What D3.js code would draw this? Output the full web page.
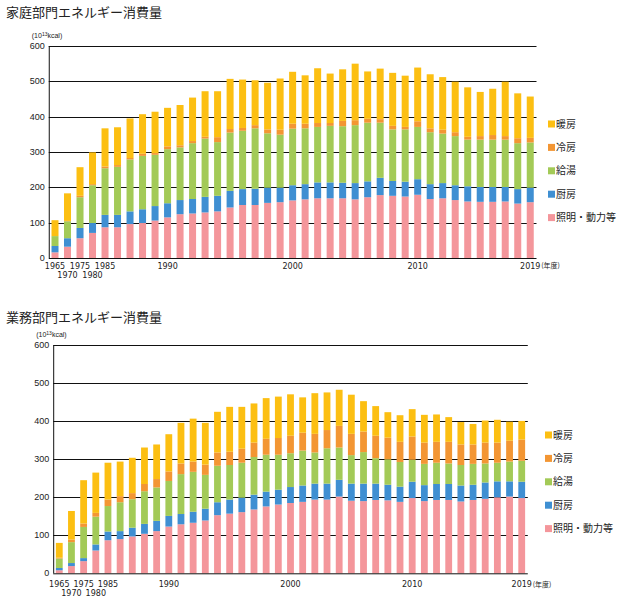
<!DOCTYPE html>
<html>
<head>
<meta charset="utf-8">
<script src="https://cdn.jsdelivr.net/npm/d3@7"></script>
<style>
  body { margin: 0; background: #fff; }
  svg { display: block; }
  .title { font-family: "Noto Sans CJK JP", sans-serif; font-size: 13px; fill: #222; }
  .unit { font-family: "Liberation Sans", Arial, sans-serif; font-size: 7px; fill: #222; }
  .ytick { font-family: "Liberation Sans", Arial, sans-serif; font-size: 9px; fill: #222; }
  .xtick text { font-family: "DejaVu Sans", Verdana, sans-serif; font-size: 8px; fill: #222; }
  .legend { font-family: "Noto Sans CJK JP", sans-serif; font-size: 10px; fill: #222; }
  .nendo { font-family: "Noto Sans CJK JP", sans-serif; font-size: 7px; fill: #222; }
</style>
</head>
<body>
<div id="chart"></div>
<script>
// years: 1965-1985 every 5 years, then yearly to 2019
const years = [1965, 1970, 1975, 1980, 1985,
  1986, 1987, 1988, 1989, 1990, 1991, 1992, 1993, 1994, 1995, 1996, 1997, 1998, 1999,
  2000, 2001, 2002, 2003, 2004, 2005, 2006, 2007, 2008, 2009, 2010, 2011, 2012, 2013,
  2014, 2015, 2016, 2017, 2018, 2019];
const yearLabels = [1965, 1970, 1975, 1980, 1985, 1990, 2000, 2010, 2019];
const lowerRowLabels = [1970, 1980];
const yTicks = [0, 100, 200, 300, 400, 500, 600];

// stack order, bottom to top
const seriesNames = ["照明・動力等", "厨房", "給湯", "冷房", "暖房"];
const seriesColors = ["#f4969b", "#3f8fd2", "#a3ca57", "#f39633", "#fcbf12"];

// 家庭部門 (10^13 kcal)
const homeLighting = [16, 32, 56, 71, 87,
  87, 96, 99, 106, 115, 124, 126, 129, 132, 143, 150, 150, 156, 158, 163, 166, 169, 169,
  169, 166, 172, 178, 176, 174, 179, 167, 169, 164, 160, 159, 159, 160, 154, 158];
const homeKitchen = [18, 24, 29, 28, 35,
  35, 36, 39, 41, 40, 40, 41, 44, 44, 47, 45, 46, 43, 41, 43, 43, 45, 45,
  44, 46, 45, 49, 42, 42, 44, 42, 43, 42, 43, 42, 42, 41, 41, 41];
const homeHotWater = [28, 48, 87, 107, 132,
  136, 147, 151, 145, 153, 149, 158, 165, 152, 165, 165, 171, 154, 150, 160, 158, 157, 160,
  160, 164, 166, 156, 146, 148, 148, 147, 140, 139, 132, 134, 134, 134, 130, 128];
const homeCooling = [0, 1, 4, 3, 5,
  5, 4, 6, 5, 8, 6, 6, 5, 14, 10, 8, 9, 11, 14, 14, 13, 11, 8,
  15, 14, 11, 10, 10, 7, 16, 11, 11, 11, 8, 10, 13, 10, 14, 13];
const homeHeating = [45, 78, 81, 90, 108,
  107, 112, 112, 117, 109, 114, 123, 129, 130, 142, 137, 127, 132, 145, 147, 137, 155, 140,
  146, 160, 134, 143, 150, 145, 152, 153, 149, 143, 140, 125, 131, 154, 127, 117];

// 業務部門 (10^13 kcal)
const bizLighting = [8, 19, 32, 60, 87,
  90, 97, 104, 111, 123, 129, 133, 139, 153, 157, 161, 168, 176, 181, 185, 188, 194, 194,
  202, 191, 190, 193, 192, 188, 198, 190, 193, 193, 189, 193, 196, 200, 202, 198];
const bizKitchen = [6, 8, 8, 16, 23,
  21, 23, 26, 27, 28, 27, 29, 31, 34, 37, 38, 39, 39, 39, 42, 43, 42, 42,
  44, 45, 46, 43, 41, 40, 43, 42, 42, 42, 42, 40, 43, 42, 40, 43];
const bizHotWater = [25, 55, 82, 73, 67,
  76, 75, 86, 88, 92, 105, 105, 89, 96, 91, 92, 99, 97, 92, 89, 92, 82, 93,
  85, 75, 83, 67, 67, 65, 58, 56, 56, 54, 54, 55, 50, 49, 52, 55];
const bizCooling = [2, 7, 9, 10, 17,
  16, 16, 19, 22, 25, 28, 27, 27, 35, 35, 37, 38, 42, 44, 46, 47, 49, 48,
  57, 56, 54, 59, 57, 53, 61, 56, 55, 57, 54, 51, 55, 53, 55, 56];
const bizHeating = [39, 75, 114, 106, 97,
  91, 93, 96, 91, 98, 107, 113, 110, 107, 118, 110, 103, 107, 109, 109, 93, 107, 99,
  95, 103, 80, 78, 67, 70, 72, 73, 72, 65, 59, 54, 58, 60, 50, 49];

const width = 619;
const height = 600;

const svg = d3.select("#chart").append("svg")
    .attr("width", width)
    .attr("height", height)
    .attr("viewBox", [0, 0, width, height]);

function drawPanel(opts) {
  const { title, series, left, right, top, bottom, titleY, row1, row2, legendX, legendY } = opts;

  // one row per year, keyed by series name
  const rows = years.map((yr, i) => {
    const r = { year: yr };
    seriesNames.forEach((n, k) => r[n] = series[k][i]);
    return r;
  });
  const stacked = d3.stack().keys(seriesNames)(rows);

  const step = (right - left) / years.length;
  const x = d3.scaleBand(years, [left, right]).paddingInner(0.44).paddingOuter(0.22);
  const y = d3.scaleLinear([0, 600], [bottom, top]);

  const g = svg.append("g");

  g.append("text").attr("class", "title")
      .attr("x", 6).attr("y", titleY)
      .text(title);
  g.append("text").attr("class", "unit")
      .attr("x", left - 17).attr("y", top - 8)
      .text("(10")
    .append("tspan").attr("font-size", "5px").attr("dy", -2).text("13")
    .select(function() { return this.parentNode; })
    .append("tspan").attr("dy", 2).text("kcal)");

  // grid lines
  g.append("g")
    .selectAll("line")
    .data(yTicks.filter(d => d > 0))
    .join("line")
      .attr("x1", left).attr("x2", right)
      .attr("y1", d => Math.round(y(d)) + 0.5).attr("y2", d => Math.round(y(d)) + 0.5)
      .attr("stroke", "#111").attr("stroke-width", 1);

  // y tick labels
  g.append("g")
    .selectAll("text")
    .data(yTicks)
    .join("text")
      .attr("class", "ytick")
      .attr("x", left - 4).attr("y", d => y(d))
      .attr("dy", "0.35em").attr("text-anchor", "end")
      .text(d => d);

  // bars
  g.append("g")
    .selectAll("g")
    .data(stacked)
    .join("g")
      .attr("fill", (d, i) => seriesColors[i])
    .selectAll("rect")
    .data(d => d)
    .join("rect")
      .attr("x", d => x(d.data.year))
      .attr("width", x.bandwidth())
      .attr("y", d => y(d[1]))
      .attr("height", d => Math.max(0, y(d[0]) - y(d[1])));

  // axes frame
  g.append("line")
      .attr("x1", left + 0.5).attr("x2", left + 0.5)
      .attr("y1", top).attr("y2", bottom)
      .attr("stroke", "#111");
  g.append("line")
      .attr("x1", left).attr("x2", right)
      .attr("y1", bottom + 0.5).attr("y2", bottom + 0.5)
      .attr("stroke", "#111");

  // x labels, 1970 and 1980 drop to a second row
  g.append("g")
      .attr("class", "xtick")
      .attr("transform", `translate(0,${bottom})`)
      .call(d3.axisBottom(x).tickValues(yearLabels).tickSize(0).tickPadding(0))
      .call(a => a.select(".domain").remove())
      .call(a => a.selectAll(".tick text")
          .attr("y", d => lowerRowLabels.includes(d) ? row2 : row1)
          .attr("dy", "0.35em"));

  g.append("text").attr("class", "nendo")
      .attr("x", x(2019) + x.bandwidth() / 2 + 11).attr("y", bottom + row1)
      .attr("dy", "0.35em")
      .text("(年度)");

  // legend, top entry is the top of the stack
  const legend = g.append("g")
    .selectAll("g")
    .data(seriesNames.slice().reverse())
    .join("g")
      .attr("transform", (d, i) => `translate(${legendX},${legendY + i * 23.4})`);
  legend.append("rect")
      .attr("x", 0).attr("y", -3.5).attr("width", 7).attr("height", 7)
      .attr("fill", d => seriesColors[seriesNames.indexOf(d)]);
  legend.append("text")
      .attr("class", "legend")
      .attr("x", 8).attr("dy", "0.35em")
      .text(d => d);
}

drawPanel({
  title: "家庭部門エネルギー消費量",
  series: [homeLighting, homeKitchen, homeHotWater, homeCooling, homeHeating],
  left: 48.75, right: 536.5, top: 46, bottom: 258,
  titleY: 17, row1: 8, row2: 17,
  legendX: 548, legendY: 124
});

drawPanel({
  title: "業務部門エネルギー消費量",
  series: [bizLighting, bizKitchen, bizHotWater, bizCooling, bizHeating],
  left: 53.2, right: 527.8, top: 345.3, bottom: 573.3,
  titleY: 322, row1: 11, row2: 20,
  legendX: 545, legendY: 435
});
</script>
</body>
</html>
